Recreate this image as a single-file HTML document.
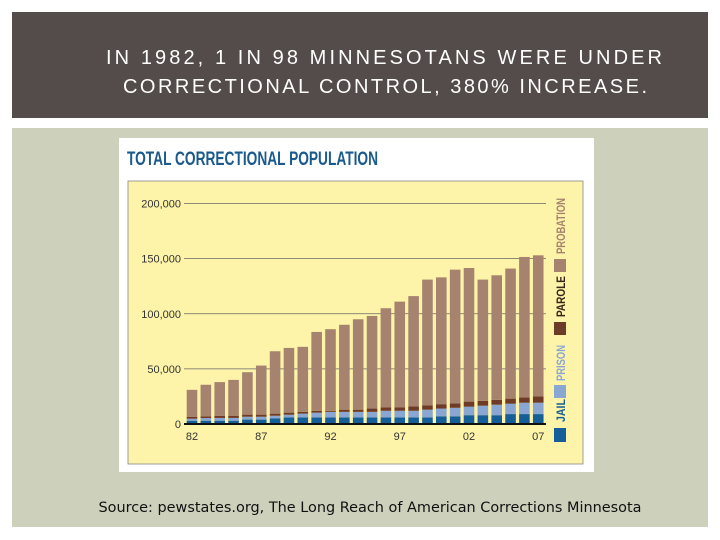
<!DOCTYPE html>
<html><head><meta charset="utf-8"><style>
html,body{margin:0;padding:0;background:#fff;width:720px;height:540px;overflow:hidden}
svg{display:block}
</style></head><body>
<svg id="root" width="720" height="540" viewBox="0 0 720 540" xmlns="http://www.w3.org/2000/svg">
  <rect x="12" y="12" width="696" height="106" fill="#544c4a"/>
  <text x="384" y="64" fill="#fff" font-family="Liberation Sans Narrow, Liberation Sans, sans-serif" font-size="20" text-anchor="middle" textLength="556" lengthAdjust="spacing">IN 1982, 1 IN 98 MINNESOTANS WERE UNDER</text>
  <text x="385" y="93" fill="#fff" font-family="Liberation Sans Narrow, Liberation Sans, sans-serif" font-size="20" text-anchor="middle" textLength="524" lengthAdjust="spacing">CORRECTIONAL CONTROL, 380% INCREASE.</text>
  <rect x="12" y="128" width="696" height="399" fill="#cdd1bc"/>
  <rect x="119" y="138" width="475" height="334" fill="#fff"/>
  <text x="127" y="165" fill="#1b5a8c" font-family="Liberation Sans, sans-serif" font-weight="bold" font-size="19" textLength="251" lengthAdjust="spacingAndGlyphs">TOTAL CORRECTIONAL POPULATION</text>
  <rect x="128" y="181" width="455" height="283" fill="#fdf4a9" stroke="#888" stroke-width="0.8"/>
  <g id="grid"></g>
  <g id="bars"></g>
  <g id="axis"></g>
  <g id="legend"></g>
  <text x="370" y="512" fill="#111" font-family="DejaVu Sans, sans-serif" font-size="14" text-anchor="middle" textLength="543" lengthAdjust="spacingAndGlyphs">Source: pewstates.org, The Long Reach of American Corrections Minnesota</text>
</svg>
<script>
const years = ["82","83","84","85","86","87","88","89","90","91","92","93","94","95","96","97","98","99","00","01","02","03","04","05","06","07"];
const jail = [3,3,3,3,4,4,5,6,6,6,6,6,6,6,6,6,6,6,7,7,8,8,8,9,9,9];
const prison = [1.8,2.4,2.5,2.5,2.6,2.6,2.5,2.4,3.4,4.3,5,5,5,5,6,6,6,7,7,7.7,7.7,8.6,9.5,9.4,10.3,10.3];
const parole = [1.8,1.6,2,2,1.9,1.9,1.9,1.9,1.6,1.7,1.0,2,2,3,3,3,4,4,4,4,4.6,4.4,4.4,4.6,4.7,5.7];
const probation = [24.4,28.6,30.5,32.5,38.5,44.5,56.6,58.7,59,71.5,74,77,82,84,90,96,100,114,115,121.3,121.2,110,113,118,127.5,128];
const yTicks = [0,50000,100000,150000,200000];
const yTickLabels = ["0","50,000","100,000","150,000","200,000"];
const xLabelYears = ["82","87","92","97","02","07"];
const seriesNames = ["jail","prison","parole","probation"];
const legendLabels = ["JAIL","PRISON","PAROLE","PROBATION"];
const colors = ["#155e97","#8aa6d2","#6e3b28","#a6836e"];
const NS="http://www.w3.org/2000/svg";
const y0=424, yTop=203.5, vMax=200000;
function yScale(v){return y0-(v/vMax)*(y0-yTop);}
const xStart=186.7, step=13.85, bw=10.6;
function xScale(i){return xStart+i*step;}
function mk(tag,attrs,parent){const e=document.createElementNS(NS,tag);for(const k in attrs)e.setAttribute(k,attrs[k]);parent.appendChild(e);return e;}
const grid=document.getElementById('grid'), bars=document.getElementById('bars'), axis=document.getElementById('axis'), legend=document.getElementById('legend');
yTicks.forEach((t,i)=>{
  if(t>0){const l=mk('line',{x1:184,x2:546,y1:yScale(t),y2:yScale(t),stroke:'#666','stroke-width':0.7},grid);
  
  }
  const tx=mk('text',{x:181,y:yScale(t)+4,'text-anchor':'end','font-family':'Liberation Sans Narrow, Liberation Sans, sans-serif','font-size':11,fill:'#333'},axis);
  tx.textContent=yTickLabels[i];
  
  
});
const data=[jail,prison,parole,probation];
years.forEach((yr,i)=>{
  let acc=0;
  data.forEach((s,k)=>{
    const v=s[i]*1000;
    const r=mk('rect',{x:xScale(i),width:bw,y:yScale(acc+v),height:yScale(acc)-yScale(acc+v),fill:colors[k]},bars);
    
    
    acc+=v;
  });
  if(xLabelYears.includes(yr)){
    const t=mk('text',{x:xScale(i)+bw/2,y:440,'text-anchor':'middle','font-family':'Liberation Sans Narrow, Liberation Sans, sans-serif','font-size':11,fill:'#333'},axis);
    t.textContent=yr;
    
    
  }
});
const base=mk('line',{x1:184,x2:546,y1:y0,y2:y0,stroke:'#111','stroke-width':2},axis);


const legSq=[[428,442],[385,398],[322,335],[259,272]];
const legTxt=[[399,422],[345,381],[276,317],[198,254]];
legendLabels.forEach((lab,k)=>{
  const sq=mk('rect',{x:554,y:legSq[k][0],width:12,height:legSq[k][1]-legSq[k][0],fill:colors[k]},legend);
  
  
  const cy=(legTxt[k][0]+legTxt[k][1])/2;
  const t=mk('text',{x:0,y:0,'text-anchor':'middle','font-family':'Liberation Sans Narrow, Liberation Sans, sans-serif','font-weight':'bold','font-size':12,fill:k==2?'#3a2418':colors[k],transform:`translate(565,${cy}) rotate(-90)`,textLength:legTxt[k][1]-legTxt[k][0],lengthAdjust:'spacingAndGlyphs'},legend);
  t.textContent=lab;
  
  
});
</script>
</body></html>
